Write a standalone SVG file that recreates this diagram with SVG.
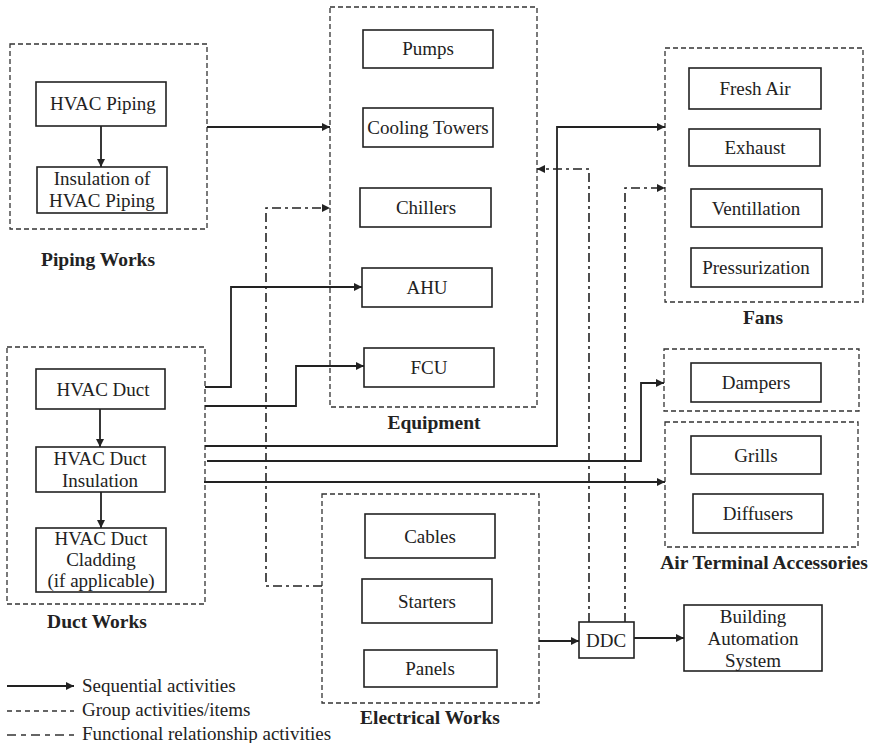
<svg xmlns="http://www.w3.org/2000/svg" width="870" height="743" viewBox="0 0 870 743">
<defs>
<style>
text{font-family:"Liberation Serif","Times New Roman",serif;font-size:19px;fill:#222;text-anchor:middle}
.lbl{font-weight:bold;font-size:19.5px}
.leg{text-anchor:start}
.grp{fill:none;stroke:#333;stroke-width:1.3;stroke-dasharray:5,3}
.box{fill:#fff;stroke:#222;stroke-width:1.6}
.seq{fill:none;stroke:#222;stroke-width:1.8}
.fun{fill:none;stroke:#222;stroke-width:1.6;stroke-dasharray:9,4,3,4}
</style>
<marker id="ah" viewBox="0 0 10 10" refX="10" refY="5" markerWidth="9" markerHeight="8" markerUnits="userSpaceOnUse" orient="auto">
<path d="M0,0 L10,5 L0,10 z" fill="#222"/>
</marker>
</defs>
<rect width="870" height="743" fill="#fff"/>

<g id="piping-works">
<rect class="grp" x="10" y="44" width="197" height="185"/>
<g id="hvac-piping"><rect class="box" x="36" y="82" width="130" height="44"/><text x="103" y="110">HVAC Piping</text></g>
<g id="insulation-piping"><rect class="box" x="37" y="167" width="130" height="46"/><text x="102" y="185">Insulation of</text><text x="102" y="207">HVAC Piping</text></g>
<text class="lbl" x="98" y="266">Piping  Works</text>
</g>

<g id="equipment">
<rect class="grp" x="330" y="7" width="207" height="400"/>
<g id="pumps"><rect class="box" x="363" y="30" width="130" height="38"/><text x="428" y="55">Pumps</text></g>
<g id="cooling-towers"><rect class="box" x="363" y="108" width="130" height="39"/><text x="428" y="134">Cooling Towers</text></g>
<g id="chillers"><rect class="box" x="360" y="188" width="131" height="39"/><text x="426" y="214">Chillers</text></g>
<g id="ahu"><rect class="box" x="362" y="268" width="130" height="39"/><text x="427" y="294">AHU</text></g>
<g id="fcu"><rect class="box" x="364" y="348" width="130" height="39"/><text x="429" y="374">FCU</text></g>
<text class="lbl" x="434" y="429">Equipment</text>
</g>

<g id="fans">
<rect class="grp" x="665" y="48" width="198" height="254"/>
<g id="fresh-air"><rect class="box" x="689" y="68" width="132" height="41"/><text x="755" y="95">Fresh Air</text></g>
<g id="exhaust"><rect class="box" x="689" y="129" width="131" height="37"/><text x="755" y="154">Exhaust</text></g>
<g id="ventillation"><rect class="box" x="691" y="189" width="131" height="38"/><text x="756" y="215">Ventillation</text></g>
<g id="pressurization"><rect class="box" x="691" y="248" width="131" height="39"/><text x="756" y="274">Pressurization</text></g>
<text class="lbl" x="763" y="324">Fans</text>
</g>

<g id="duct-works">
<rect class="grp" x="7" y="347" width="198" height="257"/>
<g id="hvac-duct"><rect class="box" x="36" y="369" width="129" height="40"/><text x="103" y="396">HVAC Duct</text></g>
<g id="duct-insulation"><rect class="box" x="36" y="447" width="129" height="45"/><text x="100" y="465">HVAC Duct</text><text x="100" y="487">Insulation</text></g>
<g id="duct-cladding"><rect class="box" x="36" y="528" width="130" height="64"/><text x="101" y="545">HVAC Duct</text><text x="101" y="566">Cladding</text><text x="101" y="587">(if applicable)</text></g>
<text class="lbl" x="97" y="628">Duct Works</text>
</g>

<g id="dampers-group">
<rect class="grp" x="664" y="349" width="195" height="62"/>
<g id="dampers"><rect class="box" x="691" y="363" width="130" height="39"/><text x="756" y="389">Dampers</text></g>
</g>

<g id="air-terminal-accessories">
<rect class="grp" x="665" y="422" width="193" height="125"/>
<g id="grills"><rect class="box" x="691" y="436" width="130" height="38"/><text x="756" y="462">Grills</text></g>
<g id="diffusers"><rect class="box" x="693" y="494" width="130" height="39"/><text x="758" y="520">Diffusers</text></g>
<text class="lbl" x="764" y="569">Air Terminal Accessories</text>
</g>

<g id="electrical-works">
<rect class="grp" x="322" y="494" width="217" height="209"/>
<g id="cables"><rect class="box" x="365" y="514" width="130" height="44"/><text x="430" y="543">Cables</text></g>
<g id="starters"><rect class="box" x="362" y="579" width="130" height="44"/><text x="427" y="608">Starters</text></g>
<g id="panels"><rect class="box" x="364" y="650" width="133" height="37"/><text x="430" y="675">Panels</text></g>
<text class="lbl" x="430" y="724">Electrical Works</text>
</g>

<g id="ddc"><rect class="box" x="579" y="622" width="55" height="36"/><text x="606" y="647">DDC</text></g>

<g id="bas"><rect class="box" x="684" y="605" width="138" height="66"/><text x="753" y="623">Building</text><text x="753" y="645">Automation</text><text x="753" y="667">System</text></g>

<g id="connectors">
<path class="seq" d="M101,126 V167" marker-end="url(#ah)"/>
<path class="seq" d="M100,409 V447" marker-end="url(#ah)"/>
<path class="seq" d="M101,492 V528" marker-end="url(#ah)"/>
<path class="seq" d="M207,127 H330" marker-end="url(#ah)"/>
<path class="seq" d="M205,387 H231 V287 H362" marker-end="url(#ah)"/>
<path class="seq" d="M205,406 H296 V366 H364" marker-end="url(#ah)"/>
<path class="seq" d="M205,446 H557 V127 H665" marker-end="url(#ah)"/>
<path class="seq" d="M207,461 H641 V383 H664" marker-end="url(#ah)"/>
<path class="seq" d="M204,482 H665" marker-end="url(#ah)"/>
<path class="seq" d="M539,641 H579" marker-end="url(#ah)"/>
<path class="seq" d="M634,638 H684" marker-end="url(#ah)"/>
<path class="fun" d="M322,586 H266 V208 H330" marker-end="url(#ah)"/>
<path class="fun" d="M589,622 V169 H537" marker-end="url(#ah)"/>
<path class="fun" d="M625,622 V188 H665" marker-end="url(#ah)"/>
</g>

<g id="legend">
<path class="seq" d="M7,686 H74" marker-end="url(#ah)"/>
<text class="leg" x="82" y="692">Sequential activities</text>
<path d="M7,711 H74" fill="none" stroke="#333" stroke-width="1.3" stroke-dasharray="5,4"/>
<text class="leg" x="82" y="716">Group activities/items</text>
<path d="M7,735 H74" fill="none" stroke="#333" stroke-width="1.5" stroke-dasharray="9,5,5,5"/>
<text class="leg" x="82" y="740">Functional relationship activities</text>
</g>
</svg>
